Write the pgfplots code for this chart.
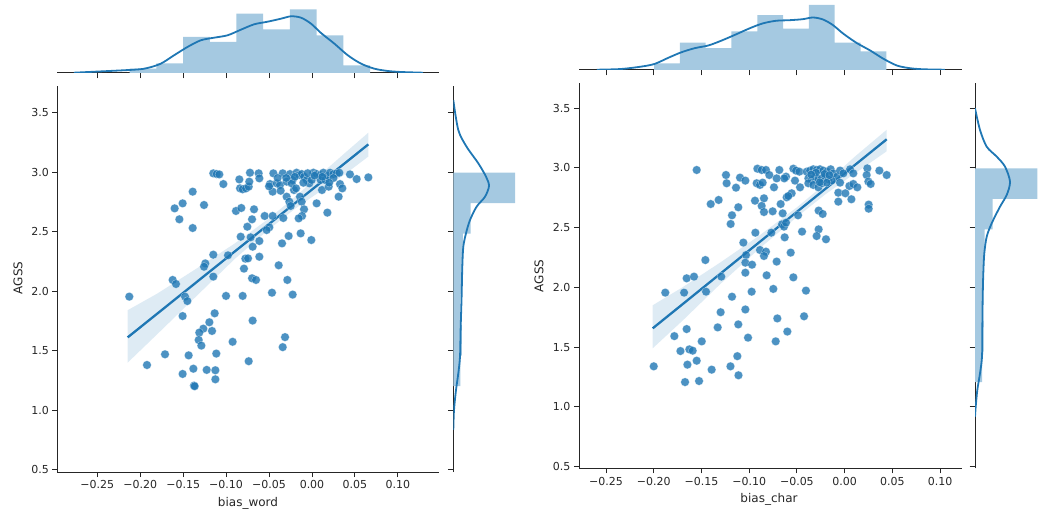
\documentclass[border=0pt]{standalone}
\usepackage{fontspec}
\setmainfont{DejaVu Sans}
\usepackage{pgfplots}
\pgfplotsset{compat=1.18}
\definecolor{c0}{RGB}{31,119,180}
\definecolor{histc}{RGB}{165,201,225}
\definecolor{spine}{RGB}{38,38,38}
\pgfplotsset{
 base/.style={scale only axis, anchor=south west,
   axis line style={draw=spine, line width=1pt, -},
   tick style={draw=spine, line width=1pt},
   tick align=outside, major tick length=5pt,
   tick label style={font=\fontsize{11}{13}\selectfont, text=spine}},
 xt/.style={xtick={-0.25,-0.2,-0.15,-0.1,-0.05,0,0.05,0.1}},
 yt/.style={ytick={0.5,1,1.5,2,2.5,3,3.5}},
 xtl/.style={xticklabels={−0.25,−0.20,−0.15,−0.10,−0.05,0.00,0.05,0.10}},
 ytl/.style={yticklabels={0.5,1.0,1.5,2.0,2.5,3.0,3.5}},
 xnol/.style={xticklabels={,,,,,,,}},
 ynol/.style={yticklabels={,,,,,,}},
 scat/.style={only marks, mark=*, mark size=4.3pt,
   mark options={fill=c0, draw=white, line width=0.3pt, fill opacity=0.8, draw opacity=0.6}},
 band/.style={fill=c0, fill opacity=0.15, draw=none},
 reg/.style={c0, line width=2.3pt, no marks},
 kde/.style={c0, line width=1.8pt, no marks, smooth},
 hist/.style={fill=histc, draw=none, no marks},
}
\begin{document}
\begin{tikzpicture}
\useasboundingbox (0,0) rectangle (1048pt,520pt);
% ================= LEFT: bias_word =================
\begin{axis}[base, xt, yt, xtl, ytl, at={(57.3pt,48pt)}, width=382pt, height=386pt,
  xmin=-0.2965, xmax=0.1482, ymin=0.482, ymax=3.722,
  axis x line*=bottom, axis y line*=left]
\addplot[scat] table {
x y
-0.1149 2.989
-0.1110 2.983
-0.1079 2.980
-0.1032 2.899
-0.0846 2.938
-0.0838 2.863
-0.0807 2.855
-0.0768 2.863
-0.0737 2.877
-0.0730 2.919
-0.0722 2.994
-0.0621 2.989
-0.0613 2.947
-0.0489 2.899
-0.0458 2.835
-0.0450 2.989
-0.0411 2.905
-0.0373 2.891
-0.0341 2.989
-0.0365 2.843
-0.0295 2.919
-0.0256 2.983
-0.0225 2.933
-0.0210 2.849
-0.0179 2.994
-0.0147 2.975
-0.0120 2.983
-0.0093 2.961
-0.0062 2.933
-0.0031 2.905
-0.0004 2.933
0.0016 2.994
0.0054 2.983
0.0093 2.975
0.0101 2.933
0.0132 2.994
0.0155 2.933
0.0186 2.966
0.0210 2.994
0.0248 2.983
0.0287 2.989
0.0318 2.994
0.0116 2.849
0.0194 2.877
0.0326 2.899
0.0353 2.863
0.0310 2.793
0.0442 2.980
0.0520 2.941
0.0656 2.955
-0.0237 2.905
-0.0186 2.863
-0.0140 2.793
-0.0120 2.751
-0.0093 2.687
-0.0116 2.631
-0.0155 2.611
-0.0295 2.793
-0.0264 2.751
-0.0248 2.715
0.0054 2.737
0.0179 2.659
-0.005 2.990
0.003 2.970
0.012 2.960
-0.020 2.960
-0.030 2.950
0.025 2.950
-0.040 2.950
-0.010 2.910
0.020 2.910
-0.050 2.880
-0.1389 2.835
-0.1506 2.737
-0.1599 2.695
-0.1544 2.603
-0.1389 2.530
-0.1257 2.723
-0.0885 2.673
-0.0823 2.698
-0.0675 2.687
-0.0698 2.603
-0.0753 2.541
-0.0830 2.457
-0.0714 2.452
-0.0613 2.421
-0.0691 2.373
-0.0551 2.631
-0.0458 2.631
-0.0497 2.536
-0.0528 2.513
-0.0334 2.614
-0.0272 2.463
-0.0349 2.401
-0.0132 2.485
-0.0008 2.429
-0.1149 2.306
-0.0978 2.301
-0.1242 2.233
-0.1257 2.205
-0.1149 2.122
-0.0776 2.273
-0.0745 2.275
-0.0792 2.189
-0.0613 2.289
-0.0388 2.217
-0.0698 2.108
-0.0652 2.094
-0.0287 2.094
-0.1622 2.094
-0.1583 2.060
-0.2127 1.954
-0.1478 1.954
-0.1451 1.917
-0.1506 1.791
-0.1001 1.960
-0.0807 1.960
-0.0466 1.987
-0.0225 1.971
-0.1133 1.814
-0.1195 1.739
-0.1265 1.685
-0.1312 1.652
-0.1164 1.666
-0.1319 1.590
-0.1288 1.543
-0.0691 1.753
-0.0924 1.575
-0.1114 1.476
-0.1436 1.461
-0.1711 1.470
-0.1921 1.380
-0.1381 1.349
-0.1506 1.305
-0.1226 1.339
-0.1125 1.336
-0.1125 1.260
-0.1374 1.207
-0.1366 1.202
-0.0737 1.412
-0.0314 1.614
-0.0341 1.530
};
\addplot[band] coordinates {
(-0.2146,1.40) (-0.18,1.64) (-0.13,1.99) (-0.09,2.27) (-0.05,2.52) (-0.02,2.69) (0.01,2.84) (0.04,2.99) (0.0656,3.13)
(0.0656,3.33) (0.04,3.17) (0.01,2.98) (-0.02,2.79) (-0.05,2.61) (-0.09,2.40) (-0.13,2.21) (-0.18,1.98) (-0.2146,1.84)
(-0.2146,1.40)};
\addplot[reg] coordinates {(-0.2146,1.612) (0.0656,3.232)};
\end{axis}
% top marginal
\begin{axis}[base, xt, xnol, at={(57.3pt,447pt)}, width=382pt, height=68pt,
  xmin=-0.2965, xmax=0.1482, ymin=0, ymax=68,
  axis x line*=bottom, axis y line=none, ytick=\empty, major tick length=5.5pt]
\addplot[hist] coordinates {
(-0.2123,0) (-0.2123,4.3) (-0.1812,4.3) (-0.1812,9.7) (-0.1501,9.7) (-0.1501,36) (-0.1190,36) (-0.1190,31)
(-0.0879,31) (-0.0879,59.3) (-0.0568,59.3) (-0.0568,43.7) (-0.0257,43.7) (-0.0257,63.7) (0.0054,63.7)
(0.0054,37.7) (0.0365,37.7) (0.0365,7.7) (0.0676,7.7) (0.0676,0) (-0.2123,0)};
\addplot[kde] coordinates {
(-0.2773,0.3) (-0.2073,3.3) (-0.1917,5) (-0.1761,9.3) (-0.1606,17.7) (-0.1450,26) (-0.1295,32.7)
(-0.1140,35.3) (-0.0983,37.7) (-0.0828,43.3) (-0.0673,48.7) (-0.0517,51.3) (-0.0361,54.3) (-0.0244,56.7)
(-0.0128,55.3) (-0.0011,49.3) (0.0105,40) (0.0261,29.3) (0.0417,17.7) (0.0572,9.3) (0.0727,4.3)
(0.0884,2) (0.1039,1) (0.1292,0.3)};
\end{axis}
% right marginal
\begin{axis}[base, yt, ynol, at={(453.3pt,48pt)}, width=68pt, height=386pt,
  xmin=0, xmax=68, ymin=0.482, ymax=3.722,
  axis x line=none, axis y line*=left, xtick=\empty, major tick length=5.5pt]
\addplot[hist] coordinates {
(0,1.202) (7,1.202) (7,1.458) (8.5,1.458) (8.5,1.714) (7,1.714) (7,1.970) (8.5,1.970) (8.5,2.226)
(9.5,2.226) (9.5,2.482) (17.3,2.482) (17.3,2.738) (61.7,2.738) (61.7,2.994) (0,2.994) (0,1.202)};
\addplot[kde] coordinates {
(0,3.604) (5,3.352) (13.3,3.212) (25,3.073) (32.7,2.961) (35.7,2.883) (31.7,2.793) (23.3,2.709)
(16.7,2.597) (12.7,2.486) (10,2.373) (9,2.205) (8.3,1.953) (7.3,1.674) (6.7,1.450) (5,1.310)
(2.7,1.170) (0.7,1.003) (0,0.835)};
\end{axis}
\node[font=\fontsize{12}{14}\selectfont, text=spine, rotate=90] at (18pt,242pt) {AGSS};
\node[font=\fontsize{12}{14}\selectfont, text=spine] at (248pt,17pt) {bias\_word};
% ================= RIGHT: bias_char =================
\begin{axis}[base, xt, yt, xtl, ytl, at={(579pt,51.7pt)}, width=382.7pt, height=385pt,
  xmin=-0.2783, xmax=0.1227, ymin=0.485, ymax=3.709,
  axis x line*=bottom, axis y line*=left]
\addplot[scat] table {
x y
-0.1550 2.983
-0.1243 2.941
-0.1236 2.872
-0.1138 2.835
-0.1096 2.919
-0.1040 2.894
-0.1403 2.698
-0.1320 2.732
-0.1114 2.671
-0.1180 2.604
-0.1194 2.531
-0.0914 2.994
-0.0869 2.983
-0.0824 2.983
-0.0789 2.941
-0.0712 2.913
-0.0684 2.983
-0.0614 2.927
-0.0632 2.913
-0.0740 2.838
-0.0921 2.872
-0.0887 2.858
-0.0859 2.877
-0.0537 2.994
-0.0509 2.978
-0.0474 2.969
-0.0520 2.894
-0.0467 2.838
-0.0555 2.788
-0.0607 2.754
-0.0590 2.765
-0.0397 2.969
-0.0362 2.978
-0.0328 2.989
-0.0293 2.983
-0.0258 2.989
-0.0223 2.978
-0.0188 2.969
-0.0146 2.989
-0.0118 2.955
-0.0083 2.927
-0.0048 2.978
-0.0013 2.955
0.0057 2.989
0.0091 2.955
-0.0380 2.913
-0.0345 2.899
-0.0310 2.927
-0.0275 2.905
-0.0240 2.913
-0.0205 2.927
-0.0170 2.905
-0.0136 2.894
-0.0380 2.872
-0.0328 2.858
-0.0275 2.838
-0.0240 2.872
-0.0188 2.877
-0.0048 2.877
0.0050 2.849
0.0091 2.866
0.0133 2.838
0.0238 2.997
0.0231 2.941
0.0249 2.886
0.0273 2.866
0.0364 2.978
0.0441 2.941
-0.0300 2.960
-0.0210 2.950
-0.0350 2.945
-0.0160 2.940
-0.0260 2.880
-0.0066 2.793
0.0008 2.788
0.0071 2.738
-0.0066 2.718
0.0252 2.693
0.0252 2.659
-0.0939 2.726
-0.0845 2.746
-0.0869 2.682
-0.0845 2.631
-0.0754 2.637
-0.0670 2.698
-0.0649 2.620
-0.0488 2.604
-0.0272 2.643
-0.0230 2.615
-0.0935 2.458
-0.0768 2.458
-0.0656 2.528
-0.0635 2.509
-0.0614 2.542
-0.0446 2.467
-0.0628 2.419
-0.0272 2.486
-0.0293 2.430
-0.0195 2.403
-0.1061 2.375
-0.1033 2.271
-0.0887 2.313
-0.0824 2.299
-0.0845 2.263
-0.1040 2.207
-0.0970 2.190
-0.0712 2.216
-0.0565 2.291
-0.1459 2.229
-0.1655 2.076
-0.1578 2.090
-0.1292 2.090
-0.1040 2.123
-0.0817 2.101
-0.0537 2.084
-0.1879 1.956
-0.1682 1.956
-0.1452 1.964
-0.1180 1.922
-0.0974 1.964
-0.0747 1.987
-0.0405 1.973
-0.1299 1.792
-0.1040 1.815
-0.0705 1.740
-0.0425 1.758
-0.1655 1.651
-0.1784 1.592
-0.1330 1.665
-0.1114 1.690
-0.1497 1.548
-0.1012 1.579
-0.0600 1.630
-0.0722 1.548
-0.1720 1.467
-0.1627 1.481
-0.1592 1.470
-0.1550 1.386
-0.1647 1.353
-0.1124 1.424
-0.1393 1.311
-0.1196 1.339
-0.1112 1.264
-0.2000 1.339
-0.1672 1.207
-0.1525 1.216
};
\addplot[band] coordinates {
(-0.2011,1.49) (-0.17,1.72) (-0.13,2.03) (-0.09,2.32) (-0.05,2.59) (-0.02,2.78) (0.01,2.95) (0.0441,3.14)
(0.0441,3.32) (0.01,3.09) (-0.02,2.87) (-0.05,2.67) (-0.09,2.43) (-0.13,2.21) (-0.17,2.00) (-0.2011,1.85)
(-0.2011,1.49)};
\addplot[reg] coordinates {(-0.2011,1.657) (0.0441,3.240)};
\end{axis}
% top marginal
\begin{axis}[base, xt, xnol, at={(579pt,450pt)}, width=382.7pt, height=68pt,
  xmin=-0.2783, xmax=0.1227, ymin=0, ymax=68,
  axis x line*=bottom, axis y line=none, ytick=\empty, major tick length=5.5pt]
\addplot[hist] coordinates {
(-0.1997,0) (-0.1997,6.7) (-0.1727,6.7) (-0.1727,27.3) (-0.1456,27.3) (-0.1456,21.9) (-0.1186,21.9)
(-0.1186,38.7) (-0.0915,38.7) (-0.0915,54.9) (-0.0645,54.9) (-0.0645,41.4) (-0.0374,41.4) (-0.0374,65)
(-0.0104,65) (-0.0104,27.3) (0.0167,27.3) (0.0167,18.5) (0.0437,18.5) (0.0437,0) (-0.1997,0)};
\addplot[kde] coordinates {
(-0.2597,0.3) (-0.2343,1) (-0.2131,3.4) (-0.1990,6.1) (-0.1850,12.1) (-0.1708,17.8) (-0.1567,21.9)
(-0.1425,24.6) (-0.1285,29.6) (-0.1143,35.4) (-0.1002,41.4) (-0.0861,46.5) (-0.0720,49.2) (-0.0578,49.8)
(-0.0438,50.8) (-0.0332,52.5) (-0.0226,50.5) (-0.0121,44.8) (-0.0015,36.4) (0.0127,27.0) (0.0268,19.5)
(0.0409,11.1) (0.0550,4.4) (0.0692,1.7) (0.0832,0.7) (0.1051,0.3)};
\end{axis}
% right marginal
\begin{axis}[base, yt, ynol, at={(975pt,51.7pt)}, width=68pt, height=385pt,
  xmin=0, xmax=68, ymin=0.485, ymax=3.709,
  axis x line=none, axis y line*=left, xtick=\empty, major tick length=5.5pt]
\addplot[hist] coordinates {
(0,1.207) (7,1.207) (7,1.463) (8.5,1.463) (8.5,1.719) (8,1.719) (8,1.974) (8.5,1.974) (8.5,2.230)
(9.5,2.230) (9.5,2.486) (17.7,2.486) (17.7,2.741) (62.3,2.741) (62.3,2.997) (0,2.997) (0,1.207)};
\addplot[kde] coordinates {
(0,3.500) (5,3.318) (11.7,3.178) (21.7,3.095) (30,3.011) (35,2.885) (31.7,2.774) (25,2.676)
(16.7,2.537) (11.7,2.425) (9.3,2.286) (8.3,2.118) (7.7,1.922) (7.3,1.643) (7,1.420) (5,1.280)
(2.3,1.141) (0.7,1.001) (0,0.917)};
\end{axis}
\node[font=\fontsize{12}{14}\selectfont, text=spine, rotate=90] at (539pt,244pt) {AGSS};
\node[font=\fontsize{12}{14}\selectfont, text=spine] at (769pt,21pt) {bias\_char};
\end{tikzpicture}
\end{document}
